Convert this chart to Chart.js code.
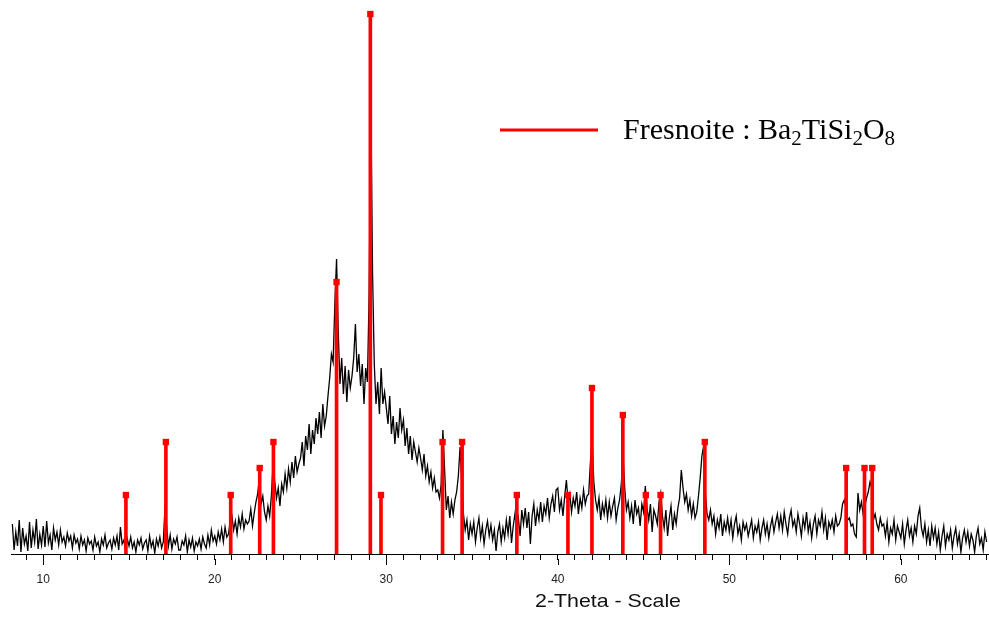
<!DOCTYPE html>
<html lang="en">
<head>
    <meta charset="UTF-8">
    <title>Fresnoite XRD</title>
    <script src="https://cdn.jsdelivr.net/npm/chart.js"></script>
    <style>
        body {
            margin: 0;
            background: #fff;
        }
        #wrap {
            width: 989px;
            height: 619px;
        }
    </style>
</head>
<body>
    <div id="wrap">
        <canvas id="xrdChart" width="989" height="619"></canvas>
    </div>

    <script>
        // measured pattern: 2-theta from 8.2 deg, one reading every 0.1 deg
        const scanStart = 8.2;
        const scanStep = 0.1;
        const intensity = [
            30, 4, 22, 8, 34, 2, 26, 10,
            18, 3, 32, 6, 24, 12, 35, 5, 20, 9,              // 9
            28, 7, 33, 11, 19, 4, 26, 14, 22, 9,             // 10
            24, 12, 17, 8, 21, 13, 18, 6, 19, 11,
            15, 5, 18, 9, 14, 3, 16, 10, 13, 4,
            17, 8, 12, 2, 15, 9, 19, 6, 11, 14,
            5, 16, 9, 18, 4, 27, 10, 14, 3, 15,              // 14
            8, 17, 6, 12, 2, 14, 9, 16, 5, 11,
            14, 3, 18, 7, 13, 1, 15, 8, 17, 6,
            12, 48, 26, 8, 19, 5, 15, 10, 17, 4,             // 17
            4, 13, 9, 18, 2, 14, 7, 16, 3, 12,
            8, 15, 5, 17, 10, 6, 19, 9, 24, 13,
            18, 10, 22, 14, 25, 12, 27, 17, 20, 33,          // 20
            38, 24, 33, 20, 36, 27, 40, 25, 34, 30,
            33, 45, 28, 41, 52, 60, 76, 50, 58, 42,
            34, 48, 38, 58, 90, 72, 56, 66, 48, 70,
            62, 80, 66, 85, 72, 92, 76, 98, 82, 90,          // 24
            96, 112, 88, 118, 104, 130, 100, 124, 110, 136,
            120, 142, 116, 150, 128, 138, 158, 176, 200, 192,
            250, 295, 222, 170, 196, 160, 188, 152, 184, 166, // 27
            178, 196, 230, 182, 200, 168, 190, 150, 186, 172,
            260, 450, 280, 190, 150, 172, 140, 186, 150, 162, // 29
            146, 130, 158, 120, 138, 110, 132, 116, 146, 124,
            134, 108, 126, 100, 118, 94, 112, 102, 92, 106,
            96, 84, 100, 78, 88, 72, 82, 66, 76, 62,
            64, 56, 70, 124, 84, 44, 58, 36, 52, 40,         // 33
            54, 62, 78, 107, 72, 40, 24, 34, 14, 30,
            20, 32, 12, 26, 36, 16, 28, 10, 24, 33,
            18, 29, 14, 24, 3, 22, 30, 12, 26, 16,
            34, 20, 38, 11, 28, 40, 24, 36, 18, 44,          // 37
            30, 46, 26, 42, 10, 38, 50, 28, 44, 34,
            52, 32, 48, 40, 56, 36, 50, 58, 42, 64,
            66, 44, 54, 38, 58, 74, 52, 60, 42, 56,          // 40
            48, 62, 40, 56, 46, 64, 50, 58, 60, 92,
            114, 72, 54, 44, 56, 34, 50, 40, 54, 36,
            52, 38, 48, 56, 34, 46, 54, 70, 101, 66,         // 43
            44, 52, 36, 48, 30, 54, 40, 46, 28, 50,
            42, 68, 46, 34, 50, 22, 44, 38, 30, 52,
            61, 38, 26, 44, 18, 36, 48, 24, 40, 30,
            46, 56, 84, 66, 52, 60, 44, 54, 38, 50,          // 47
            36, 42, 58, 76, 98, 108, 62, 40, 34, 44,
            30, 38, 20, 34, 26, 40, 18, 32, 24, 36,
            22, 34, 16, 30, 38, 20, 28, 14, 32, 24,          // 50
            30, 18, 26, 34, 16, 28, 22, 32, 14, 26,
            34, 20, 30, 16, 28, 36, 22, 32, 40, 26,
            38, 24, 42, 30, 20, 36, 44, 28, 34, 22,
            40, 30, 18, 36, 26, 42, 22, 32, 16, 30,          // 54
            38, 20, 34, 28, 42, 24, 36, 14, 32, 26,
            34, 22, 38, 28, 30, 36, 50, 54, 46, 34,
            36, 28, 30, 20, 17, 61, 44, 52, 40, 48,          // 57
            56, 62, 72, 66, 34, 40, 30, 24, 36, 28,
            30, 18, 32, 12, 26, 20, 34, 14, 28, 22,
            16, 30, 10, 24, 34, 18, 26, 12, 28, 20,          // 60
            38, 46, 26, 18, 30, 12, 24, 8, 28, 16,
            26, 10, 22, 4, 18, 28, 8, 20, 14, 24,
            6, 18, 26, 10, 20, 2, 16, 24, 12, 22,
            8, 20, 14, 2, 18, 26, 10, 16, 4, 22,             // 64
            12
        ];

        // reference lines for Fresnoite
        const peakPos = [14.82, 17.15, 20.93, 22.62, 23.42, 27.10, 29.07, 29.69, 33.28, 34.42,
                         37.61, 40.59, 41.99, 43.79, 45.13, 45.99, 48.57, 56.81, 57.88, 58.33];
        const peakHeight = [59, 112, 59, 86, 112, 272, 540, 59, 112, 112,
                            59, 59, 166, 139, 59, 59, 112, 86, 86, 86];

        const xMin = 8.12;
        const xMax = 65.08;
        const tickLabels = [10, 20, 30, 40, 50, 60];

        const scanPoints = intensity.map((v, i) => ({ x: +(scanStart + i * scanStep).toFixed(2), y: v }));
        const stickPoints = peakPos.map((p, i) => ({ x: p, y: peakHeight[i] }));

        // longer marks under the labelled ticks, axis title and the legend
        const extras = {
            id: 'extras',
            afterDraw(chart) {
                const ctx = chart.ctx;
                const xs = chart.scales.x;
                const bottom = chart.chartArea.bottom;
                ctx.save();
                ctx.strokeStyle = '#000';
                ctx.lineWidth = 1;
                tickLabels.forEach(v => {
                    const px = Math.round(xs.getPixelForValue(v)) + 0.5;
                    ctx.beginPath();
                    ctx.moveTo(px, bottom + 5);
                    ctx.lineTo(px, bottom + 11);
                    ctx.stroke();
                });

                // axis title, a little wide like the original
                ctx.font = '19px Arial';
                ctx.fillStyle = '#111';
                ctx.textAlign = 'center';
                ctx.textBaseline = 'alphabetic';
                const title = '2-Theta - Scale';
                const w = ctx.measureText(title).width;
                ctx.translate(608, 607);
                ctx.scale(146 / w, 1);
                ctx.fillText(title, 0, 0);
                ctx.restore();

                // legend
                ctx.save();
                ctx.strokeStyle = '#ff0000';
                ctx.lineWidth = 3;
                ctx.beginPath();
                ctx.moveTo(500, 130);
                ctx.lineTo(598, 130);
                ctx.stroke();

                const parts = [
                    { t: 'Fresnoite : Ba', sub: false },
                    { t: '2', sub: true },
                    { t: 'TiSi', sub: false },
                    { t: '2', sub: true },
                    { t: 'O', sub: false },
                    { t: '8', sub: true }
                ];
                ctx.fillStyle = '#000';
                ctx.textAlign = 'left';
                let x = 623;
                parts.forEach(p => {
                    ctx.font = p.sub ? '21px "Liberation Serif"' : '30px "Liberation Serif"';
                    ctx.fillText(p.t, x, p.sub ? 145 : 139);
                    x += ctx.measureText(p.t).width;
                });
                ctx.restore();
            }
        };

        new Chart(document.getElementById('xrdChart'), {
            data: {
                datasets: [
                    {
                        type: 'scatter',
                        data: stickPoints,
                        pointStyle: 'rect',
                        pointRadius: 4.5,
                        backgroundColor: '#ff0000',
                        borderWidth: 0,
                        clip: false,
                        order: 0
                    },
                    {
                        type: 'bar',
                        data: stickPoints,
                        backgroundColor: '#ff0000',
                        barThickness: 3,
                        order: 1
                    },
                    {
                        type: 'line',
                        data: scanPoints,
                        borderColor: '#000',
                        borderWidth: 1.3,
                        pointRadius: 0,
                        tension: 0,
                        order: 2
                    }
                ]
            },
            options: {
                responsive: false,
                animation: false,
                devicePixelRatio: 1,
                layout: {
                    autoPadding: false,
                    padding: { left: 11, right: 1, top: 0, bottom: 0 }
                },
                plugins: {
                    legend: { display: false },
                    tooltip: { enabled: false }
                },
                scales: {
                    x: {
                        type: 'linear',
                        min: xMin,
                        max: xMax,
                        offset: false,
                        afterFit(scale) {
                            scale.height = 65;
                            scale.paddingLeft = 0;
                            scale.paddingRight = 0;
                        },
                        border: { display: true, color: '#000', width: 1 },
                        grid: {
                            display: true,
                            offset: false,
                            drawOnChartArea: false,
                            drawTicks: true,
                            tickLength: 6,
                            color: '#000'
                        },
                        ticks: {
                            stepSize: 1,
                            includeBounds: false,
                            autoSkip: false,
                            maxRotation: 0,
                            padding: 12,
                            color: '#222',
                            font: { family: 'Arial', size: 12 },
                            callback: v => tickLabels.includes(v) ? String(v) : ''
                        }
                    },
                    y: {
                        display: false,
                        min: 0,
                        max: 554
                    }
                }
            },
            plugins: [extras]
        });
    </script>
</body>
</html>
